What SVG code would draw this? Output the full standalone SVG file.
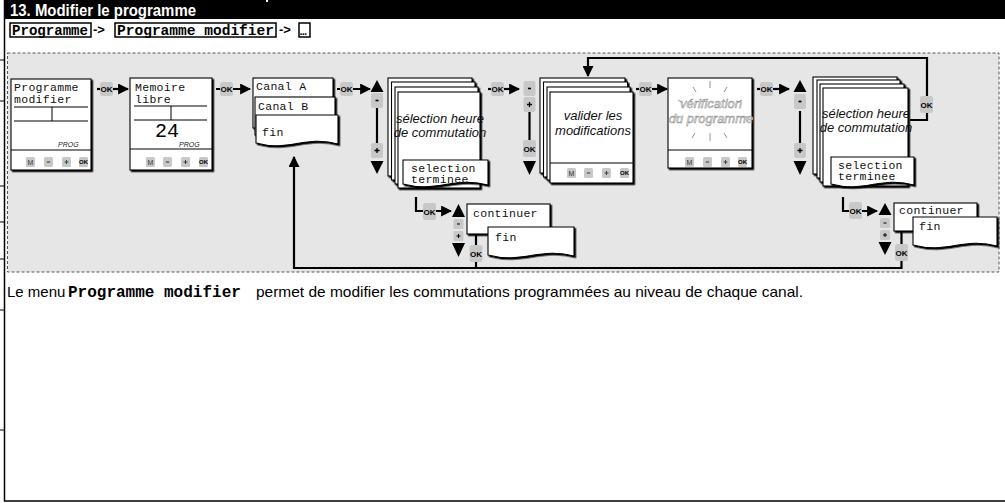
<svg xmlns="http://www.w3.org/2000/svg" xmlns:xlink="http://www.w3.org/1999/xlink" width="1005" height="503" viewBox="0 0 1005 503">
<style>
.lcd{font-family:"Liberation Mono","DejaVu Sans Mono",monospace;font-size:11.5px;letter-spacing:0.3px;fill:#111}
.it{font-family:"Liberation Sans Narrow","Liberation Sans",sans-serif;font-style:italic;font-size:13px;fill:#111}
.box{fill:#fff;stroke:#000;stroke-width:1.1;filter:url(#sh)}
.ln{stroke:#000;stroke-width:1;fill:none}
.conn{stroke:#000;stroke-width:2.2;fill:none}
.gb{fill:#c8c8c8}
.bt{font-family:"Liberation Sans",sans-serif;font-size:7px;fill:#333;text-anchor:middle}
.bok{font-family:"Liberation Sans",sans-serif;font-size:6px;font-weight:bold;fill:#000;text-anchor:middle}
.okt{font-family:"Liberation Sans",sans-serif;font-size:8px;font-weight:bold;fill:#000;text-anchor:middle}
.prog{font-family:"Liberation Sans",sans-serif;font-size:7px;font-style:italic;fill:#222}
.crumb{font-family:"Liberation Mono","Courier New",monospace;font-size:14px;font-weight:bold;fill:#000}
.arr{font-family:"Liberation Sans",sans-serif;font-size:13px;font-weight:bold;fill:#000}
.ray{stroke:#888;stroke-width:0.9;fill:none}
.body{font-family:"Liberation Sans",Arial,sans-serif;font-size:15px;fill:#000}
</style>
<defs>
<filter id="sh" x="-5%" y="-5%" width="115%" height="115%"><feDropShadow dx="1.5" dy="1.5" stdDeviation="0" flood-color="#000" flood-opacity="1"/></filter>
<marker id="ah" viewBox="0 0 10 10" refX="9" refY="5" markerWidth="11" markerHeight="11" markerUnits="userSpaceOnUse" orient="auto"><path d="M0,0 L10,5 L0,10 z" fill="#000"/></marker>
<g id="okc"><rect width="13" height="14" rx="2.5" class="gb"/><text x="6.5" y="10" class="okt">OK</text></g>
<g id="okv"><rect width="13" height="17" rx="2.5" class="gb"/><text x="6.5" y="11.5" class="okt">OK</text></g>
<g id="bM"><rect width="9" height="10" rx="1.5" class="gb"/><text x="4.5" y="7.5" class="bt">M</text></g>
<g id="bMi"><rect width="9" height="10" rx="1.5" class="gb"/><path d="M2.8,5 H6.2" stroke="#333" stroke-width="1"/></g>
<g id="bPl"><rect width="9" height="10" rx="1.5" class="gb"/><path d="M2.5,5 H6.5 M4.5,3 V7" stroke="#333" stroke-width="0.9"/></g>
<g id="bOK"><rect width="9" height="10" rx="1.5" class="gb"/><text x="4.5" y="7" class="bok">OK</text></g>
<g id="cMi"><rect width="12" height="15" rx="2" class="gb"/><path d="M4.5,7.5 H7.5" stroke="#000" stroke-width="1.6"/></g>
<g id="cPl"><rect width="12" height="15" rx="2" class="gb"/><path d="M3.5,7.5 H8.5 M6,5 V10" stroke="#000" stroke-width="1.3"/></g>
<g id="sMi"><rect width="10" height="10" rx="1.5" class="gb"/><path d="M3.5,5 H6.5" stroke="#000" stroke-width="1"/></g>
<g id="sPl"><rect width="10" height="10" rx="1.5" class="gb"/><path d="M3,5 H7 M5,3 V7" stroke="#000" stroke-width="1"/></g>
</defs>

<rect width="1005" height="503" fill="#fff"/>

<g id="frame">
<rect x="5" y="0" width="1000" height="19" fill="#000"/>
<rect x="266" y="0" width="2" height="2" fill="#fff"/>
<text x="10" y="16" font-family="Liberation Sans Narrow,Liberation Sans,sans-serif" font-weight="bold" font-size="17" fill="#fff" textLength="186" lengthAdjust="spacingAndGlyphs">13. Modifier le programme</text>
<path d="M4.5,0 V501 H1005" stroke="#000" stroke-width="1.5" fill="none"/>
<path d="M0,60 H4 M0,101 H4 M0,186 H4 M0,222 H4 M0,259 H4 M0,310 H4 M0,430 H4" stroke="#000" stroke-width="1.2"/>
</g>

<g id="breadcrumb">
<rect x="10" y="23" width="81" height="14" fill="#fff" stroke="#000" stroke-width="1.5"/>
<text x="12" y="34.5" class="crumb" textLength="76" lengthAdjust="spacingAndGlyphs">Programme</text>
<text x="93" y="34" class="arr">-&gt;</text>
<rect x="115" y="23" width="161" height="14" fill="#fff" stroke="#000" stroke-width="1.5"/>
<text x="117" y="34.5" class="crumb" textLength="157" lengthAdjust="spacingAndGlyphs">Programme modifier</text>
<text x="279" y="34" class="arr">-&gt;</text>
<rect x="299" y="23" width="11" height="14" fill="#fff" stroke="#000" stroke-width="1.5"/>
<text x="300" y="35" font-family="Liberation Mono,monospace" font-size="11" font-weight="bold">…</text>
</g>

<rect id="panel" x="7.5" y="53" width="991.5" height="219" fill="#e6e6e6" stroke="#555" stroke-width="1" stroke-dasharray="3,2"/>

<g id="n-programme-modifier">
<rect x="11" y="79" width="80" height="91" class="box"/>
<text x="14" y="91" class="lcd">Programme</text>
<text x="14" y="103" class="lcd">modifier</text>
<path d="M14,107 H88 M52,107 V121 M14,121 H88 M11,150 H91" class="ln"/>
<text x="58" y="147" class="prog">PROG</text>
<use href="#bM" x="26" y="157"/><use href="#bMi" x="44" y="157"/><use href="#bPl" x="62" y="157"/><use href="#bOK" x="79" y="157"/>
</g>

<g id="n-memoire-libre">
<rect x="130" y="78" width="82" height="92" class="box"/>
<text x="135" y="91" class="lcd">Memoire</text>
<text x="135" y="103" class="lcd"> libre</text>
<path d="M134,106 H207 M171,106 V120 M134,120 H207 M130,149 H212" class="ln"/>
<text x="155" y="137" font-family="Liberation Mono,monospace" font-size="20" fill="#000">24</text>
<text x="179" y="147" class="prog">PROG</text>
<use href="#bM" x="146" y="157"/><use href="#bMi" x="163" y="157"/><use href="#bPl" x="181" y="157"/><use href="#bOK" x="199" y="157"/>
</g>

<g id="n-canal">
<rect x="253" y="78" width="80" height="50" class="box"/>
<text x="256" y="90" class="lcd">Canal A</text>
<rect x="255" y="97" width="80" height="38" class="box"/>
<text x="258" y="110" class="lcd">Canal B</text>
<path d="M256,115 H338 V144 C305,135 289,152 256,143 Z" class="box"/>
<text x="262" y="136" class="lcd">fin</text>
</g>

<g id="ctl-1">
<path d="M377,108 V143" stroke="#000" stroke-width="2.2"/>
<polygon points="377,80 383.5,92 370.5,92" fill="#000"/>
<use href="#cMi" x="371" y="93"/>
<use href="#cPl" x="371" y="143"/>
<polygon points="370.5,161 383.5,161 377,174" fill="#000"/>
</g>

<g id="n-selection-1">
<rect x="388" y="78" width="84" height="98" class="box"/>
<rect x="391.5" y="82" width="83.5" height="98" class="box"/>
<rect x="395" y="87" width="83" height="97" class="box"/>
<rect x="398" y="92" width="82" height="96" class="box"/>
<text x="440" y="123" class="it" text-anchor="middle">sélection heure</text>
<text x="440" y="137" class="it" text-anchor="middle">de commutation</text>
<path d="M403,160 H488 V185 C454,176 437,193 403,184 Z" class="box"/>
<text x="411" y="172" class="lcd">selection</text>
<text x="411" y="183" class="lcd">terminee</text>
</g>

<g id="ctl-2">
<path d="M529.5,112 V141" stroke="#000" stroke-width="2.2"/>
<use href="#cMi" x="523.5" y="81"/>
<use href="#cPl" x="523.5" y="97"/>
<use href="#okv" x="523" y="140"/>
<polygon points="523,161 536,161 529.5,175" fill="#000"/>
</g>

<g id="n-valider">
<rect x="540" y="78" width="85" height="95" class="box"/>
<rect x="543.5" y="82" width="84" height="95" class="box"/>
<rect x="547" y="87" width="83" height="93" class="box"/>
<rect x="550" y="92" width="83" height="91" class="box"/>
<text x="593" y="120" class="it" text-anchor="middle">valider les</text>
<text x="593" y="135" class="it" text-anchor="middle">modifications</text>
<path d="M550,163 H633" class="ln"/>
<use href="#bM" x="567" y="168"/><use href="#bMi" x="584" y="168"/><use href="#bPl" x="602" y="168"/><use href="#bOK" x="620" y="168"/>
</g>

<g id="n-verification">
<rect x="668" y="78" width="84" height="90" class="box"/>
<path d="M693,87 L696,92 M710,81 V88 M727,87 L724,92 M678,100 L683,103 M742,100 L737,103 M673,117 H681 M740,117 H748 M695,133 L692,138 M710,133 V141 M724,133 L727,138" class="ray"/>
<text x="711" y="108" class="it" text-anchor="middle" stroke="#888" stroke-width="0.5" style="fill:#f2f2f2">vérification</text>
<text x="711" y="123" class="it" text-anchor="middle" stroke="#888" stroke-width="0.5" style="fill:#f2f2f2">du programme</text>
<path d="M668,150 H752" class="ln"/>
<use href="#bM" x="685" y="157"/><use href="#bMi" x="703" y="157"/><use href="#bPl" x="721" y="157"/><use href="#bOK" x="738" y="157"/>
</g>

<g id="ctl-3">
<path d="M800,111 V143" stroke="#000" stroke-width="2.2"/>
<polygon points="800,80 806.5,92 793.5,92" fill="#000"/>
<use href="#cMi" x="794" y="94"/>
<use href="#cPl" x="794" y="143"/>
<polygon points="793.5,161 806.5,161 800,175" fill="#000"/>
</g>

<g id="n-selection-2">
<rect x="813" y="77" width="84" height="97" class="box"/>
<rect x="817" y="80" width="83" height="98" class="box"/>
<rect x="820" y="84" width="84" height="98" class="box"/>
<rect x="823" y="88" width="85" height="98" class="box"/>
<text x="866" y="118" class="it" text-anchor="middle">sélection heure</text>
<text x="866" y="132" class="it" text-anchor="middle">de commutation</text>
<path d="M831,157 H914 V185 C881,176 864,193 831,184 Z" class="box"/>
<text x="838" y="169" class="lcd">selection</text>
<text x="838" y="180" class="lcd">terminee</text>
</g>

<g id="n-continuer-1">
<rect x="467" y="204" width="83" height="30" class="box"/>
<text x="473" y="217" class="lcd">continuer</text>
<path d="M488,227 H574 V256 C540,247 522,264 488,255 Z" class="box"/>
<text x="495" y="241" class="lcd">fin</text>
</g>

<g id="n-continuer-2">
<rect x="894" y="203" width="83" height="28" class="box"/>
<text x="899" y="214" class="lcd">continuer</text>
<path d="M913,217 H997 V246 C963,237 947,254 913,245 Z" class="box"/>
<text x="919" y="230" class="lcd">fin</text>
</g>

<g id="ctl-4">
<polygon points="458.5,204 465,217 452,217" fill="#000"/>
<use href="#sMi" x="453.5" y="219"/>
<use href="#sPl" x="453.5" y="231"/>
<polygon points="452,243 465,243 458.5,257" fill="#000"/>
</g>
<g id="ctl-5">
<polygon points="885,203 891.5,215 878.5,215" fill="#000"/>
<use href="#sMi" x="880" y="218"/>
<use href="#sPl" x="880" y="230"/>
<polygon points="878.5,242 891.5,242 885,255" fill="#000"/>
</g>

<g id="connectors">
<path class="conn" d="M97,89 H128" marker-end="url(#ah)"/>
<path class="conn" d="M216,89 H250" marker-end="url(#ah)"/>
<path class="conn" d="M337,89 H370" marker-end="url(#ah)"/>
<path class="conn" d="M488,89 H519" marker-end="url(#ah)"/>
<path class="conn" d="M636,89 H667" marker-end="url(#ah)"/>
<path class="conn" d="M757,89 H789" marker-end="url(#ah)"/>
<path class="conn" d="M910,120 H927 V58 H588 V76" marker-end="url(#ah)"/>
<path class="conn" d="M416,197 V211 H451" marker-end="url(#ah)"/>
<path class="conn" d="M476,234 V268 H294 V157" marker-end="url(#ah)"/>
<path class="conn" d="M843,197 V211 H877" marker-end="url(#ah)"/>
<path class="conn" d="M901.5,231 V268 H476"/>
<use href="#okc" x="100" y="82"/>
<use href="#okc" x="220" y="82"/>
<use href="#okc" x="340" y="82"/>
<use href="#okc" x="491" y="82"/>
<use href="#okc" x="639" y="82"/>
<use href="#okc" x="760" y="82"/>
<use href="#okv" x="920" y="96"/>
<use href="#okv" x="423" y="203"/>
<use href="#okv" x="469.5" y="245"/>
<use href="#okv" x="849" y="202"/>
<use href="#okv" x="895" y="244"/>
</g>

<g id="caption">
<text x="7" y="297" class="body">Le menu</text>
<text x="68" y="297" font-family="Liberation Mono,Courier New,monospace" font-weight="bold" font-size="16">Programme modifier</text>
<text x="256" y="297" class="body" textLength="547" lengthAdjust="spacingAndGlyphs">permet de modifier les commutations programmées au niveau de chaque canal.</text>
</g>
</svg>
